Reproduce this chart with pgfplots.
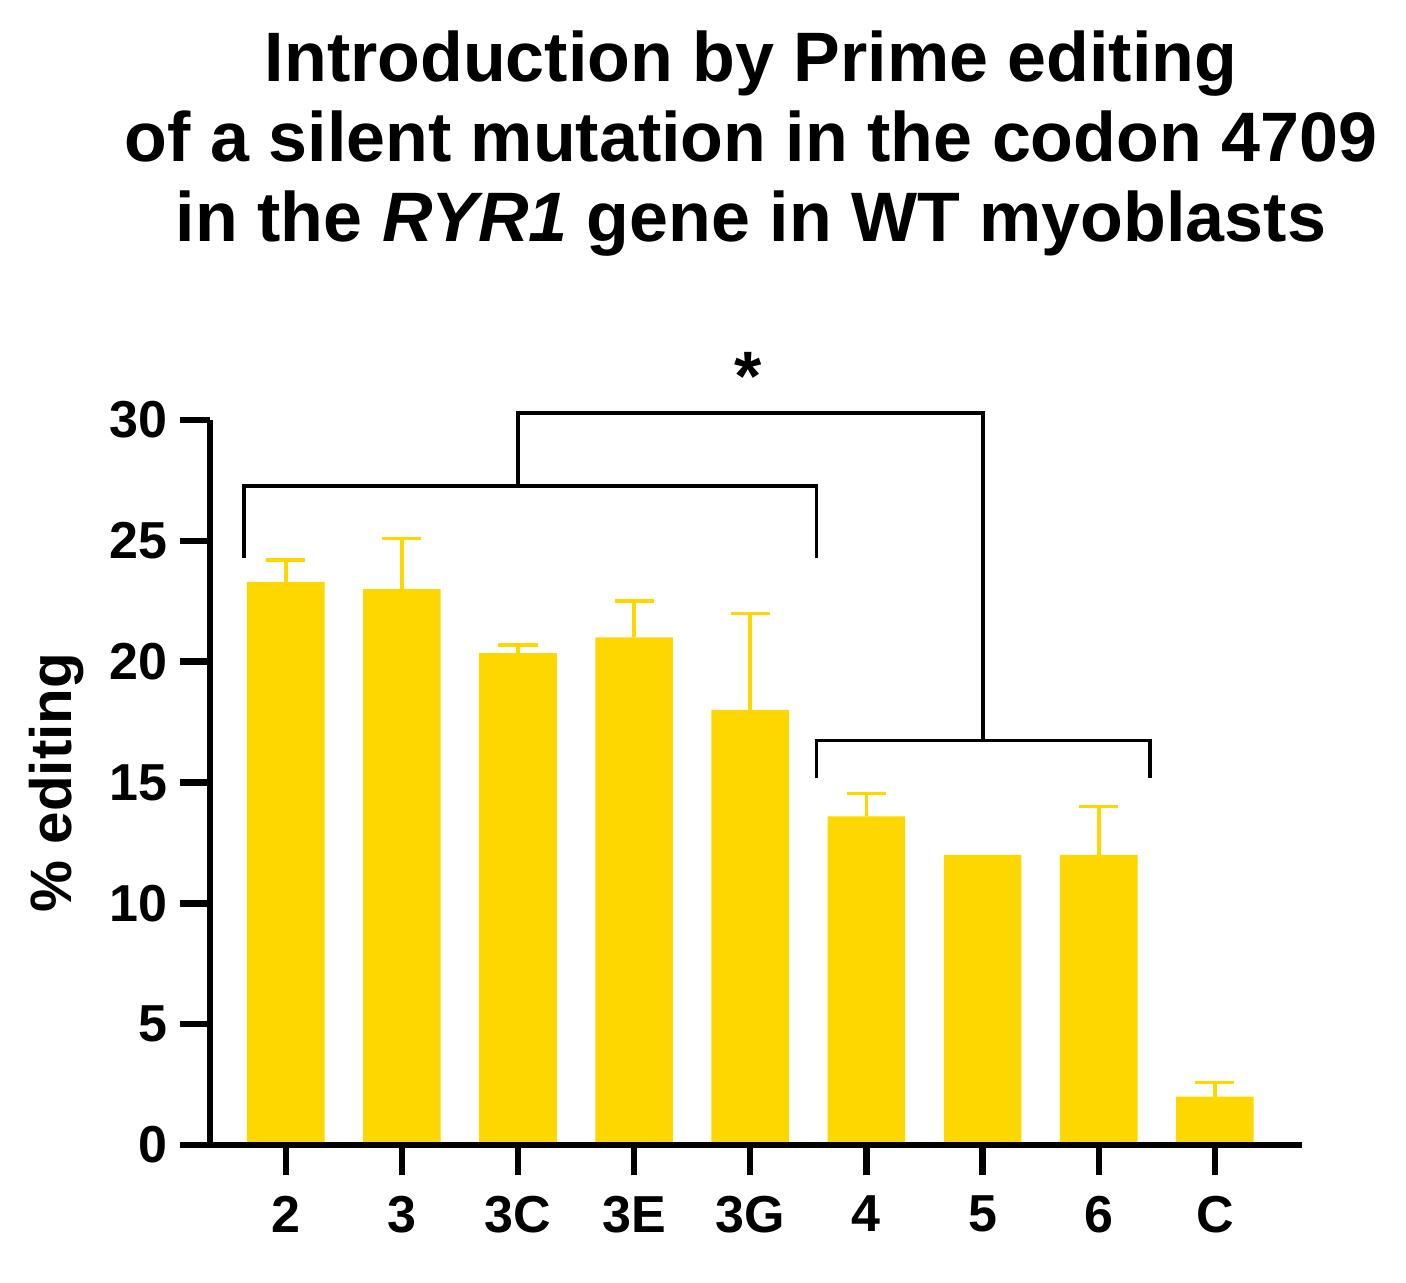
\documentclass[border=0pt]{standalone}
\usepackage{fontspec}
\setmainfont{Liberation Sans}
\usepackage{pgfplots}
\usepackage{pgfplotstable}
\pgfplotsset{compat=1.18}
\definecolor{barY}{RGB}{255,215,0}
\pgfplotstableread{
x y e
0 23.3 0.9
1 23.0 2.1
2 20.35 0.33
3 21.0 1.52
4 18.0 4.0
5 13.6 0.95
6 12.0 -0.2
7 12.0 2.0
8 2.0 0.58
}\editdata
\begin{document}
\begin{tikzpicture}
\begin{axis}[
  width=273pt, height=181.25pt, scale only axis,
  xmin=-0.652, xmax=8.75, ymin=0, ymax=30,
  axis x line=bottom, axis y line=left,
  axis line style={-, line width=1.6pt, black},
  axis on top,
  clip=false,
  ybar, bar width=19.4pt,
  tick align=outside,
  major tick length=7.5pt,
  tick style={line width=1.6pt, black},
  xtick={0,...,8},
  xticklabels={2,3,3C,3E,3G,4,5,6,C},
  ytick={0,5,...,30},
  /pgf/number format/assume math mode=true,
  ticklabel style={font=\bfseries\fontsize{13}{15}\selectfont, inner sep=0pt},
  yticklabel style={xshift=-3pt},
  xticklabel style={yshift=-5pt},
  ylabel={\% editing},
  ylabel style={font=\bfseries\fontsize{14.6}{17}\selectfont, at={(axis description cs:-0.1264,0.5)}, anchor=base, inner sep=0pt},
]
\addplot[fill=barY, draw=none,
  error bars/.cd, y dir=plus, y explicit,
  error bar style={line width=0.9pt, color=barY},
  error mark options={line width=0.9pt, color=barY, mark size=4.9pt, rotate=90}]
  table[x=x, y=y, y error=e] {\editdata};
\draw[line width=0.85pt, black] (axis cs:-0.36,24.29) |- (axis cs:4.568,27.27) -- (axis cs:4.568,24.29);
\draw[line width=0.85pt, black] (axis cs:4.568,15.19) |- (axis cs:7.44,16.73) -- (axis cs:7.44,15.19);
\draw[line width=0.85pt, black] (axis cs:2,27.27) |- (axis cs:6.005,30.29) -- (axis cs:6.005,16.73);
\node[font=\bfseries\fontsize{17.5}{20}\selectfont, anchor=base, inner sep=0pt] at (axis cs:3.985,30.8) {*};
\node[font=\bfseries\fontsize{17.5}{20}\selectfont, anchor=base, inner sep=0pt] at (axis description cs:0.4954,1.4666) {Introduction by Prime editing};
\node[font=\bfseries\fontsize{17.5}{20}\selectfont, anchor=base, inner sep=0pt] at (axis description cs:0.4954,1.3563) {of a silent mutation in the codon 4709};
\node[font=\bfseries\fontsize{17.5}{20}\selectfont, anchor=base, inner sep=0pt] at (axis description cs:0.4954,1.2459) {in the \textit{RYR1} gene in WT myoblasts};
\end{axis}
\path[use as bounding box] (-52.5pt,-34.5pt) rectangle (299pt,286.25pt);
\end{tikzpicture}
\end{document}
